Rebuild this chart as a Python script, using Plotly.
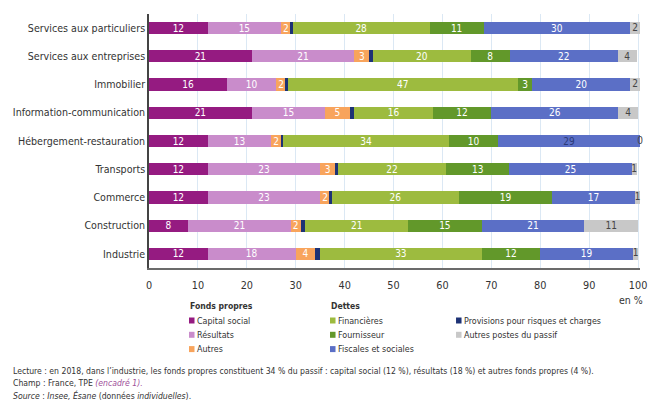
import numpy as np
import plotly.graph_objects as go

# Sectors, top to bottom
secteurs = [
    "Services aux particuliers",
    "Services aux entreprises",
    "Immobilier",
    "Information-communication",
    "Hébergement-restauration",
    "Transports",
    "Commerce",
    "Construction",
    "Industrie",
]

# Fonds propres (% du passif)
capital_social = [12, 21, 16, 21, 12, 12, 12, 8, 12]
resultats = [15, 21, 10, 15, 13, 23, 23, 21, 18]
autres_fp = [2, 3, 2, 5, 2, 3, 2, 2, 4]
# Dettes et autres postes (% du passif)
provisions = [0.4, 0.8, 0.4, 1, 0.4, 0.7, 0.4, 1, 1]
financieres = [28, 20, 47, 16, 34, 22, 26, 21, 33]
fournisseur = [11, 8, 3, 12, 10, 13, 19, 15, 12]
fiscales_sociales = [30, 22, 20, 26, 29, 25, 17, 21, 19]
autres_passif = [2, 4, 2, 4, 0, 1, 1, 11, 1]

x_ticks = [0, 10, 20, 30, 40, 50, 60, 70, 80, 90, 100]

FONT = "DejaVu Sans Condensed, DejaVu Sans, sans-serif"
TXT = "#333333"

series = [
    ("Capital social", capital_social, "#951b81", "white"),
    ("Résultats", resultats, "#c98ccb", "white"),
    ("Autres", autres_fp, "#f8a45c", "white"),
    ("Provisions pour risques et charges", provisions, "#1d3275", None),
    ("Financières", financieres, "#9dbb3f", "white"),
    ("Fournisseur", fournisseur, "#62982a", "white"),
    ("Fiscales et sociales", fiscales_sociales, "#5b6fc6", "white"),
    ("Autres postes du passif", autres_passif, "#c8c8c8", "#444444"),
]

totals = np.sum([s[1] for s in series], axis=0)
x_max = float(max(totals.max(), 100))

# figure geometry (pixels)
W, H = 648, 403
ML, MT, MB = 149, 14, 135
plot_w = 489 * x_max / 100.0  # keeps 100 % at the same place
MR = W - ML - plot_w
PW, PH = W - ML - MR, H - MT - MB


def px(x):
    return (x - ML) / PW


def py(y):
    return 1 - (y - MT) / PH


fig = go.Figure()
for name, vals, color, tcol in series:
    text, tcols = None, None
    if tcol is not None:
        text = [str(v) if (name != "Autres postes du passif" or v >= 3) else "" for v in vals]
        tcols = [tcol] * len(vals)
        if name == "Fiscales et sociales":
            tcols[secteurs.index("Hébergement-restauration")] = "#2b3a78"
    fig.add_trace(go.Bar(
        y=secteurs, x=vals, name=name, orientation="h",
        marker=dict(color=color, line=dict(width=0)),
        text=text, textposition="inside" if text else "none",
        insidetextanchor="middle", constraintext="none", textangle=0,
        textfont=dict(family=FONT, size=10, color=tcols),
        showlegend=False, hoverinfo="skip",
    ))

# labels of the thin grey end segments, centred on each segment
small = [i for i, v in enumerate(autres_passif) if v < 3]
fig.add_trace(go.Scatter(
    x=[totals[i] - autres_passif[i] / 2 for i in small],
    y=[secteurs[i] for i in small],
    mode="text", text=[str(autres_passif[i]) for i in small],
    textfont=dict(family=FONT, size=10, color="#444444"),
    textposition="middle center", cliponaxis=False,
    showlegend=False, hoverinfo="skip",
))

fig.update_layout(
    barmode="stack",
    bargap=0.57,
    width=W, height=H,
    margin=dict(l=ML, r=MR, t=MT, b=MB, pad=0),
    paper_bgcolor="white", plot_bgcolor="white",
    font=dict(family=FONT, color=TXT, size=11),
    xaxis=dict(
        range=[0, x_max], tickvals=x_ticks, ticktext=[str(t) for t in x_ticks],
        showgrid=True, gridcolor="#dbe8f4", gridwidth=1,
        zeroline=False, showline=True, linecolor="#6b6b6b", linewidth=2,
        ticks="outside", ticklen=6, tickcolor="rgba(0,0,0,0)",
        tickfont=dict(size=10.8, color=TXT), automargin=False,
        ticklabeloverflow="allow",
    ),
    yaxis=dict(
        categoryorder="array", categoryarray=secteurs[::-1],
        showline=True, linecolor="#444444", linewidth=1.5,
        ticks="", tickfont=dict(size=10.6, color=TXT),
        showgrid=False, automargin=False,
    ),
)

ann, shapes = [], []
ann.append(dict(text="en %", x=px(645), y=py(300), xanchor="right", yanchor="middle",
                font=dict(size=10.5, color=TXT)))

# Legend in three columns with group headers
legend_cols = [
    (189, "Fonds propres", [series[0], series[1], series[2]]),
    (330, "Dettes", [series[4], series[5], series[6]]),
    (456, None, [series[3], series[7]]),
]
for xl, title, items in legend_cols:
    if title:
        ann.append(dict(text=f"<b>{title}</b>", x=px(xl - 1), y=py(306), xanchor="left",
                        yanchor="middle", font=dict(size=8.6, color=TXT)))
    for i, (name, _, color, _) in enumerate(items):
        yc = 320.5 + 14.3 * i
        shapes.append(dict(type="rect", xref="paper", yref="paper",
                           x0=px(xl), x1=px(xl + 5.5), y0=py(yc + 3), y1=py(yc - 3),
                           fillcolor=color, line=dict(width=0)))
        ann.append(dict(text=name, x=px(xl + 6), y=py(yc), xanchor="left", yanchor="middle",
                        font=dict(size=8.9, color=TXT)))

# Footnotes
notes = [
    (371, "Lecture : en 2018, dans l’industrie, les fonds propres constituent 34 % du passif : capital social (12 %), résultats (18 %) et autres fonds propres (4 %)."),
    (383, "Champ : France, TPE <i><span style='color:#a0509a'>(encadré 1).</span></i>"),
    (395, "<i>Source</i> : <i>Insee, Ésane</i> (données <i>individuelles</i>)."),
]
for ypx, t in notes:
    ann.append(dict(text=t, x=px(11), y=py(ypx), xanchor="left", yanchor="middle",
                    font=dict(size=8.6, color=TXT)))

for a in ann:
    a.update(xref="paper", yref="paper", showarrow=False)

fig.update_layout(annotations=ann, shapes=shapes)
fig.write_html("out.html")
